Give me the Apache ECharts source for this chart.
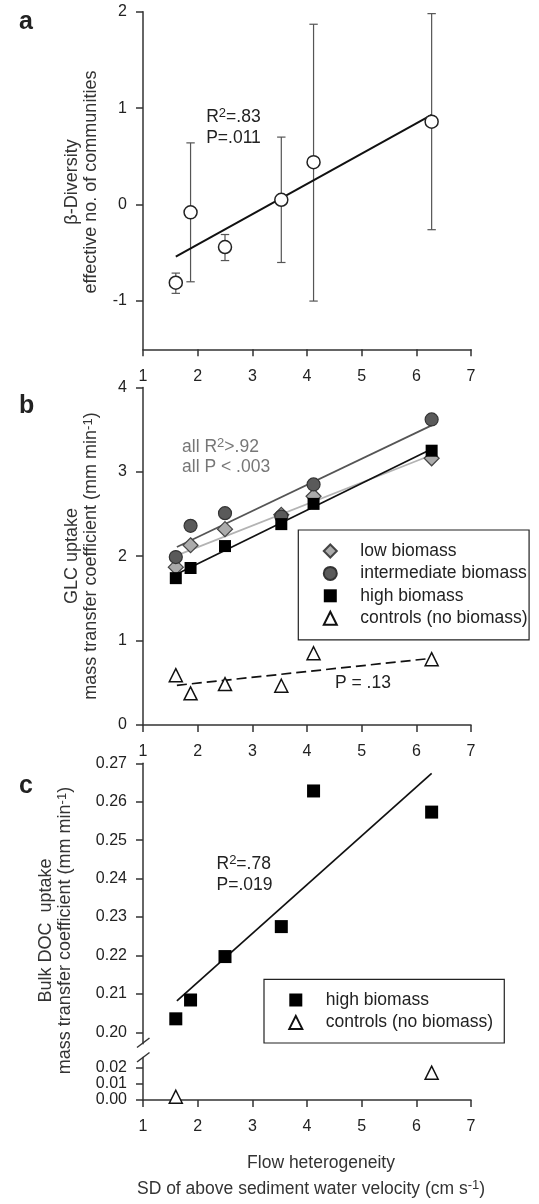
<!DOCTYPE html>
<html><head><meta charset="utf-8">
<script src="https://cdn.jsdelivr.net/npm/echarts@6/dist/echarts.min.js"></script>
<style>html,body{margin:0;padding:0;background:#fff}#c{width:539px;height:1204px}</style>
</head><body><div id="c"></div>
<script>
// ---------- data ----------
const xTicks = [1, 2, 3, 4, 5, 6, 7];
const flowX = [1.6, 1.87, 2.5, 3.53, 4.12, 6.28];
// panel a
const betaDiv = [-0.81, -0.08, -0.44, 0.05, 0.44, 0.86];
const betaLow = [-0.92, -0.80, -0.58, -0.60, -1.00, -0.26];
const betaHigh = [-0.71, 0.64, -0.31, 0.70, 1.87, 1.98];
const betaFit = [[1.6, -0.54], [6.28, 0.93]];
const yTicksA = [-1, 0, 1, 2];
// panel b
const glcLow = [1.87, 2.13, 2.32, 2.49, 2.71, 3.16];
const glcInter = [1.99, 2.36, 2.51, 2.47, 2.85, 3.62];
const glcHigh = [1.74, 1.86, 2.12, 2.38, 2.62, 3.25];
const glcCtrl = [0.59, 0.375, 0.485, 0.465, 0.85, 0.78];
const fitLow = [[1.62, 2.01], [6.28, 3.20]];
const fitInter = [[1.62, 2.11], [6.28, 3.55]];
const fitHigh = [[1.62, 1.79], [6.28, 3.27]];
const fitCtrl = [[1.62, 0.47], [6.28, 0.79]];
const yTicksB = [0, 1, 2, 3, 4];
// panel c
const docHigh = [0.2035, 0.2084, 0.2197, 0.2275, 0.2628, 0.2573];
const docCtrlX = [1.6, 6.28];
const docCtrl = [0.002, 0.0167];
const docFit = [[1.62, 0.2082], [6.28, 0.2674]];
const yTicksCUp = [0.20, 0.21, 0.22, 0.23, 0.24, 0.25, 0.26, 0.27];
const yTicksCLow = [0, 0.01, 0.02];

const names = ['low biomass', 'intermediate biomass', 'high biomass', 'controls (no biomass)'];

// ---------- styles ----------
const FONT = '"Liberation Sans", Arial, Helvetica, sans-serif';
const AX = '#333';
const TXT = '#222';
const lineSt = { color: AX, width: 1.5 };

function xAxis(gridIndex, show) {
  return {
    type: 'value', gridIndex, min: 1, max: 7, interval: 1,
    axisLine: { show, onZero: false, lineStyle: lineSt },
    axisTick: { show, length: 7, lineStyle: lineSt, customValues: xTicks },
    axisLabel: { show, margin: 19, color: TXT, fontSize: 16, fontFamily: FONT, customValues: xTicks },
    splitLine: { show: false }
  };
}
function yAxis(gridIndex, min, max, ticks, dec) {
  return {
    type: 'value', gridIndex, min, max,
    axisLine: { show: true, onZero: false, lineStyle: lineSt },
    axisTick: { show: true, length: 7, lineStyle: lineSt, customValues: ticks },
    axisLabel: { margin: 16, color: TXT, fontSize: 16, fontFamily: FONT, customValues: ticks,
      formatter: v => dec ? Number(v).toFixed(dec) : String(Math.round(v)) },
    splitLine: { show: false }
  };
}
const pts = (xs, ys) => xs.map((x, i) => [x, ys[i]]);

const styLow = { color: '#ababab', borderColor: '#444', borderWidth: 1.2, opacity: 1 };
const styInter = { color: '#5a5a5a', borderColor: '#333', borderWidth: 1.2, opacity: 1 };
const styHigh = { color: '#000', borderColor: '#000', borderWidth: 0, opacity: 1 };
const styCtrl = { color: '#fff', borderColor: '#111', borderWidth: 1.5, opacity: 1 };

function rich(fill, size) {
  return {
    n: { fontSize: size, fontFamily: FONT, fill: fill, color: fill, lineHeight: 21 },
    s: { fontSize: 13, fontFamily: FONT, fill: fill, color: fill, lineHeight: 7, verticalAlign: 'top' }
  };
}
function T(x, y, text, o) {
  o = o || {};
  const fill = o.fill || TXT, size = o.size || 17.5;
  const r = rich(fill, size);
  if (o.lh) r.n.lineHeight = o.lh;
  const st = {
    text, fill, font: (o.bold ? 'bold ' : '') + size + 'px ' + FONT,
    align: o.align || 'left', textAlign: o.align || 'left',
    verticalAlign: 'middle', textVerticalAlign: 'middle', rich: r
  };
  if (o.bold) { r.n.fontWeight = 'bold'; }
  return { type: 'text', x, y, rotation: o.rot || 0, style: st, z: 100 };
}

const chart = echarts.init(document.getElementById('c'), null, { renderer: 'canvas', width: 539, height: 1204 });

const legendBase = {
  orient: 'vertical', itemWidth: 13, itemHeight: 13, itemGap: 4.4, selectedMode: false,
  borderColor: '#222', borderWidth: 1.2, borderRadius: 0,
  textStyle: { fontSize: 17.5, lineHeight: 18, fontFamily: FONT, color: TXT, padding: [0, 0, 0, 18.5] }
};

const option = {
  animation: false,
  backgroundColor: '#fff',
  grid: [
    { left: 143, width: 328, top: 11.7, height: 337.6 },
    { left: 143, width: 328, top: 387.4, height: 337.6 },
    { left: 143, width: 328, top: 763.3, height: 280.5 },
    { left: 143, width: 328, top: 1057.5, height: 42.5 }
  ],
  xAxis: [xAxis(0, true), xAxis(1, true), xAxis(2, false), xAxis(3, true)],
  yAxis: [
    yAxis(0, -1.5, 2, yTicksA, 0),
    yAxis(1, 0, 4, yTicksB, 0),
    yAxis(2, 0.197, 0.27, yTicksCUp, 2),
    yAxis(3, 0, 0.026, yTicksCLow, 2)
  ],
  legend: [
    Object.assign({}, legendBase, { data: names, left: 298.3, top: 530, padding: [12, 1.5, 12.7, 24.5] }),
    Object.assign({}, legendBase, { data: [names[2], names[3]], left: 264, top: 979.3, padding: [11.7, 11.2, 11.6, 24.3] })
  ],
  series: [
    // panel a
    {
      type: 'custom', xAxisIndex: 0, yAxisIndex: 0, z: 1,
      data: flowX.map((x, i) => [x, betaLow[i], betaHigh[i]]),
      encode: { x: 0, y: [1, 2] },
      renderItem: function (params, api) {
        const x = api.value(0);
        const lo = api.coord([x, api.value(1)]);
        const hi = api.coord([x, api.value(2)]);
        const w = 4.2;
        const style = { stroke: '#555', lineWidth: 1.2 };
        return { type: 'group', children: [
          { type: 'line', shape: { x1: lo[0], y1: lo[1], x2: hi[0], y2: hi[1] }, style },
          { type: 'line', shape: { x1: lo[0] - w, y1: lo[1], x2: lo[0] + w, y2: lo[1] }, style },
          { type: 'line', shape: { x1: hi[0] - w, y1: hi[1], x2: hi[0] + w, y2: hi[1] }, style }
        ] };
      }
    },
    { type: 'line', xAxisIndex: 0, yAxisIndex: 0, data: betaFit, symbol: 'none', z: 2,
      lineStyle: { color: '#111', width: 2 } },
    { type: 'scatter', xAxisIndex: 0, yAxisIndex: 0, data: pts(flowX, betaDiv), symbol: 'circle', symbolSize: 13, z: 3,
      itemStyle: { color: '#fff', borderColor: '#222', borderWidth: 1.5, opacity: 1 } },
    // panel b fits
    { type: 'line', xAxisIndex: 1, yAxisIndex: 1, data: fitLow, symbol: 'none', z: 2, lineStyle: { color: '#b3b3b3', width: 1.7 } },
    { type: 'line', xAxisIndex: 1, yAxisIndex: 1, data: fitInter, symbol: 'none', z: 2, lineStyle: { color: '#555', width: 1.7 } },
    { type: 'line', xAxisIndex: 1, yAxisIndex: 1, data: fitHigh, symbol: 'none', z: 2, lineStyle: { color: '#111', width: 1.7 } },
    { type: 'line', xAxisIndex: 1, yAxisIndex: 1, data: fitCtrl, symbol: 'none', z: 2, lineStyle: { color: '#111', width: 1.7, type: [10, 5] } },
    // panel b points
    { name: names[0], type: 'scatter', xAxisIndex: 1, yAxisIndex: 1, data: pts(flowX, glcLow), symbol: 'diamond', symbolSize: 15, z: 3, itemStyle: styLow },
    { name: names[1], type: 'scatter', xAxisIndex: 1, yAxisIndex: 1, data: pts(flowX, glcInter), symbol: 'circle', symbolSize: 13, z: 3, itemStyle: styInter },
    { name: names[2], type: 'scatter', xAxisIndex: 1, yAxisIndex: 1, data: pts(flowX, glcHigh), symbol: 'rect', symbolSize: 12, z: 3, itemStyle: styHigh },
    { name: names[3], type: 'scatter', xAxisIndex: 1, yAxisIndex: 1, data: pts(flowX, glcCtrl), symbol: 'triangle', symbolSize: 13, z: 3, itemStyle: styCtrl },
    // panel c
    { type: 'line', xAxisIndex: 2, yAxisIndex: 2, data: docFit, symbol: 'none', z: 2, lineStyle: { color: '#111', width: 1.7 } },
    { name: names[2], type: 'scatter', xAxisIndex: 2, yAxisIndex: 2, data: pts(flowX, docHigh), symbol: 'rect', symbolSize: 13, z: 3, itemStyle: styHigh },
    { name: names[3], type: 'scatter', xAxisIndex: 3, yAxisIndex: 3, data: pts(docCtrlX, docCtrl), symbol: 'triangle', symbolSize: 13, z: 3, itemStyle: styCtrl }
  ],
  graphic: [
    // panel letters
    T(19, 22.5, 'a', { bold: true, size: 25 }),
    T(19, 406, 'b', { bold: true, size: 25 }),
    T(19, 786, 'c', { bold: true, size: 25 }),
    // y titles
    T(81.5, 182, '{n|β-Diversity}\n{n|effective no. of communities}', { rot: Math.PI / 2, align: 'center', lh: 19, fill: '#333', size: 18 }),
    T(81.5, 556, '{n|GLC uptake}\n{n|mass transfer coefficient (mm min}{s|-1}{n|)}', { rot: Math.PI / 2, align: 'center', lh: 19, fill: '#333', size: 18 }),
    T(55.5, 930.5, '{n|Bulk DOC  uptake}\n{n|mass transfer coefficient (mm min}{s|-1}{n|)}', { rot: Math.PI / 2, align: 'center', lh: 19, fill: '#333', size: 18 }),
    // x title
    T(321, 1163.3, '{n|Flow heterogeneity}', { align: 'center', fill: '#333' }),
    T(311, 1189.5, '{n|SD of above sediment water velocity (cm s}{s|-1}{n|)}', { align: 'center', fill: '#333' }),
    // annotations
    T(206.2, 127.5, '{n|R}{s|2}{n|=.83}\n{n|P=.011}'),
    T(182.1, 456.7, '{n|all R}{s|2}{n|>.92}\n{n|all P < .003}', { fill: '#777', lh: 20 }),
    T(335, 682.7, '{n|P = .13}'),
    T(216.5, 874.5, '{n|R}{s|2}{n|=.78}\n{n|P=.019}'),
    // axis break marks
    { type: 'line', shape: { x1: 137, y1: 1047.5, x2: 149.5, y2: 1038 }, style: { stroke: AX, lineWidth: 1.5 }, z: 100 },
    { type: 'line', shape: { x1: 137, y1: 1062, x2: 149.5, y2: 1052.5 }, style: { stroke: AX, lineWidth: 1.5 }, z: 100 }
  ]
};
chart.setOption(option);
</script>
</body></html>
